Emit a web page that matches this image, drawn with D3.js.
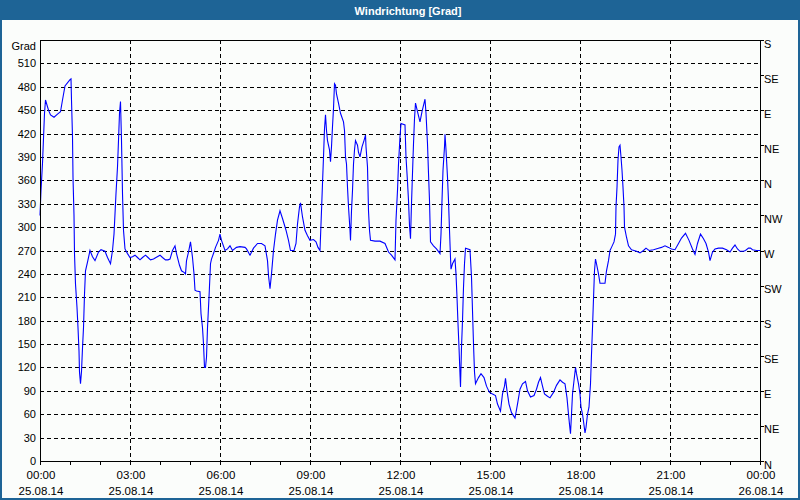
<!DOCTYPE html>
<html><head><meta charset="utf-8">
<script src="https://cdn.jsdelivr.net/npm/d3@7"></script>
<style>
html,body{margin:0;padding:0;background:#fbfdfb;}
svg{display:block;}
text{font-family:"Liberation Sans",Arial,sans-serif;}
</style></head>
<body>
<script>
// ---- data ----
const title = "Windrichtung [Grad]";
const unitLabel = "Grad";
const minutes = [0,2,5,7,9,11,17,21,28,35,41,45,50,60,62,63,65,66,68,69,71,74,76,78,79,81,83,85,87,89,91,95,100,105,110,117,122,130,135,141,145,148,152,155,157,159,161,163,165,167,170,175,180,185,190,195,200,205,211,216,221,227,232,240,245,251,256,260,265,270,273,279,283,288,291,293,297,301,305,308,310,313,320,322,325,327,329,331,333,335,338,341,343,348,351,357,360,363,370,375,380,385,393,400,410,413,420,427,435,443,450,455,457,460,463,467,471,475,480,485,492,497,501,508,512,515,519,521,525,530,535,540,547,552,556,560,563,565,567,569,571,573,575,579,581,583,585,587,589,591,593,597,601,607,609,611,613,615,617,620,621,623,625,627,629,631,635,637,640,644,648,651,652,655,657,659,661,670,680,690,697,703,710,712,715,717,720,722,730,732,735,737,739,741,743,745,747,749,751,755,760,764,767,770,772,775,777,779,781,787,793,800,802,804,806,809,810,812,815,817,819,821,822,825,830,832,834,836,838,840,841,843,845,847,849,851,860,863,867,869,871,877,882,888,893,899,905,911,915,921,925,929,931,934,938,943,950,955,960,965,971,975,981,988,993,997,1001,1005,1009,1015,1020,1027,1033,1040,1045,1050,1054,1057,1059,1061,1063,1065,1068,1071,1073,1077,1080,1082,1085,1087,1090,1092,1095,1098,1101,1103,1105,1107,1109,1111,1113,1117,1120,1125,1130,1133,1137,1140,1143,1148,1151,1152,1154,1156,1158,1160,1162,1164,1166,1168,1169,1173,1177,1183,1193,1200,1207,1212,1218,1227,1237,1243,1250,1257,1263,1270,1277,1283,1291,1298,1305,1310,1315,1321,1327,1332,1337,1340,1345,1350,1357,1365,1373,1380,1385,1390,1395,1400,1407,1411,1417,1421,1425,1433,1440];
const values = [315,347,382,414,446,463,450,444,441,445,448,463,481,489,490,463,416,364,315,266,227,197,171,141,114,99,115,145,171,214,244,255,270,262,257,268,271,269,261,253,270,291,343,377,411,446,461,411,343,296,272,266,261,262,264,261,258,261,264,261,258,259,261,264,261,258,258,259,270,276,266,251,244,242,240,257,268,281,261,240,219,218,217,189,171,150,120,120,133,171,210,253,259,268,274,283,291,283,270,272,276,270,274,275,274,272,264,273,279,279,276,257,238,221,240,270,291,309,321,311,296,283,270,270,279,304,326,331,313,296,289,283,284,281,274,270,321,356,390,426,444,424,411,399,384,403,429,452,484,482,471,459,446,435,424,390,381,351,326,296,283,321,347,381,399,411,405,396,390,403,411,418,403,377,321,296,283,282,282,279,268,264,258,309,347,381,416,433,431,390,358,334,302,285,330,369,407,439,459,448,435,448,456,464,446,407,369,334,281,276,272,266,291,334,373,403,419,399,364,334,296,261,246,253,259,240,210,176,146,111,95,146,180,223,253,273,271,236,150,114,99,107,112,107,96,88,86,84,73,64,86,96,106,90,73,62,55,73,92,99,102,90,82,84,92,101,107,96,86,83,81,88,97,104,101,99,81,60,47,35,60,86,103,120,112,99,86,69,60,51,36,43,60,69,99,137,171,208,244,259,253,240,228,228,228,244,257,270,274,281,291,326,351,386,403,405,390,373,351,326,300,287,276,271,269,267,270,273,270,271,273,274,276,274,272,271,279,286,292,283,272,265,279,291,285,279,268,257,268,272,273,273,271,268,273,277,272,269,269,270,273,273,271,270,270];
const gradTicks = [0,30,60,90,120,150,180,210,240,270,300,330,360,390,420,450,480,510];
const compassTicks = [0,45,90,135,180,225,270,315,360,405,450,495,540];
const compassLabels = ["N","NE","E","SE","S","SW","W","NW","N","NE","E","SE","S"];
const timeTicks = [0,180,360,540,720,900,1080,1260,1440];
const timeLabels = ["00:00","03:00","06:00","09:00","12:00","15:00","18:00","21:00","00:00"];
const dateLabels = ["25.08.14","25.08.14","25.08.14","25.08.14","25.08.14","25.08.14","25.08.14","25.08.14","26.08.14"];
const hourTicks = d3.range(0, 1441, 60);

// ---- layout ----
const W = 800, H = 500;
const frame = "#1e6496";
const bg = "#fbfdfb";
const svg = d3.select("body").append("svg").attr("width", W).attr("height", H);
svg.append("rect").attr("width", W).attr("height", H).attr("fill", bg);

const x = d3.scaleLinear().domain([0, 1440]).range([40, 760]);
const y = d3.scaleLinear().domain([0, 540]).range([461, 40]);

// grid
const grid = svg.append("g").attr("stroke", "#000").attr("stroke-dasharray", "4,3")
  .attr("shape-rendering", "crispEdges");
grid.selectAll(".h").data(gradTicks.filter(d => d > 0)).join("line")
  .attr("x1", x(0)).attr("x2", x(1440))
  .attr("y1", d => Math.round(y(d)) + 0.5).attr("y2", d => Math.round(y(d)) + 0.5);
grid.selectAll(".v").data(timeTicks.filter(d => d > 0 && d < 1440)).join("line")
  .attr("y1", y(540)).attr("y2", y(0))
  .attr("x1", d => Math.round(x(d)) + 0.5).attr("x2", d => Math.round(x(d)) + 0.5);

// data line
const line = d3.line().x((d, i) => x(minutes[i])).y(d => y(d));
svg.append("path").datum(values).attr("d", line)
  .attr("fill", "none").attr("stroke", "#0000ff").attr("stroke-width", 1.1);

// axes frame
const ax = svg.append("g").attr("stroke", "#000").attr("shape-rendering", "crispEdges");
ax.append("rect").attr("x", x(0) + 0.5).attr("y", y(540) + 0.5)
  .attr("width", x(1440) - x(0)).attr("height", y(0) - y(540)).attr("fill", "none");
ax.selectAll(".bt").data(hourTicks).join("line")
  .attr("x1", d => Math.round(x(d)) + 0.5).attr("x2", d => Math.round(x(d)) + 0.5)
  .attr("y1", y(0)).attr("y2", y(0) + 3.5);
ax.selectAll(".rt").data(compassTicks).join("line")
  .attr("x1", x(1440)).attr("x2", x(1440) + 3.5)
  .attr("y1", d => Math.round(y(d)) + 0.5).attr("y2", d => Math.round(y(d)) + 0.5);

// labels
const fs = "11px";
svg.append("g").selectAll("text").data(gradTicks).join("text")
  .attr("x", 36).attr("y", d => y(d) + 4).attr("text-anchor", "end")
  .attr("font-size", fs).attr("fill", "#000").text(d => d);
svg.append("text").attr("x", 36).attr("y", 49.5).attr("text-anchor", "end")
  .attr("font-size", fs).text(unitLabel);
svg.append("g").selectAll("text").data(compassTicks).join("text")
  .attr("x", x(1440) + 4).attr("y", d => y(d) + 7.5)
  .attr("font-size", fs).text((d, i) => compassLabels[i]);
const bl = svg.append("g").attr("text-anchor", "middle").attr("font-size", "11.5px");
bl.selectAll(".t").data(timeTicks).join("text")
  .attr("x", d => x(d) + 1).attr("y", 479).text((d, i) => timeLabels[i]);
bl.selectAll(".d").data(timeTicks).join("text")
  .attr("x", d => x(d) + 1).attr("y", 495).text((d, i) => dateLabels[i]);

// title bar and frame
svg.append("rect").attr("x", 0).attr("y", 0).attr("width", W).attr("height", 20).attr("fill", frame);
svg.append("text").attr("x", 408).attr("y", 14.5).attr("text-anchor", "middle")
  .attr("font-size", "11px").attr("font-weight", "bold").attr("fill", "#fff").text(title);
svg.append("rect").attr("x", 1).attr("y", 1).attr("width", W - 2).attr("height", H - 2)
  .attr("fill", "none").attr("stroke", frame).attr("stroke-width", 2);
</script>
</body></html>
